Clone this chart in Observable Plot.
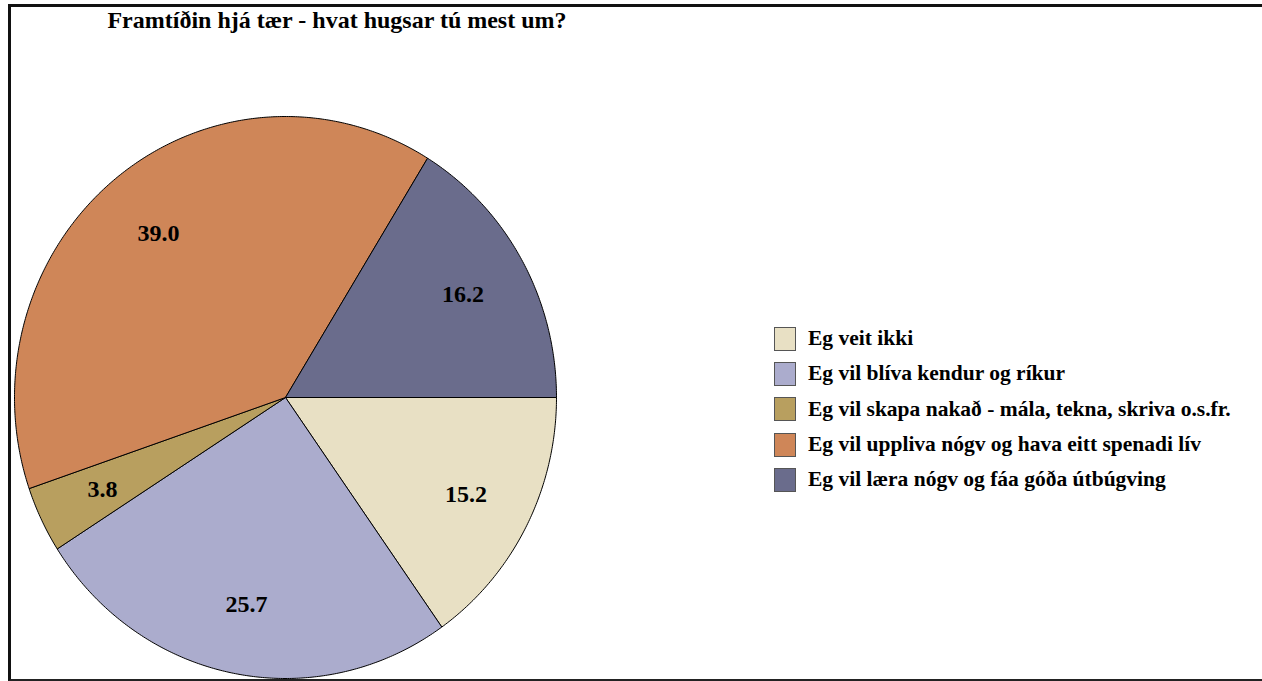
<!DOCTYPE html>
<html>
<head>
<meta charset="utf-8">
<script src="https://cdn.jsdelivr.net/npm/d3@7"></script>
<script src="https://cdn.jsdelivr.net/npm/@observablehq/plot@0.6"></script>
<style>
  html, body { margin: 0; padding: 0; background: #fff; width: 1262px; height: 681px; overflow: hidden; }
  #wrap { position: relative; width: 1262px; height: 681px; }
  #frame { position: absolute; left: 8px; top: 4px; width: 1270px; height: 672px; border-top: 3px solid #111; border-left: 3px solid #111; border-bottom: 2px solid #222; }
  #title { position: absolute; left: 0; width: 674px; top: 7px; line-height: 28px; text-align: center; font: bold 24px "Liberation Serif", "Times New Roman", serif; color: #000; }
  #chart { position: absolute; left: 0; top: 0; }
  #legend { position: absolute; left: 774px; top: 321px; font: bold 21.5px "Liberation Serif", "Times New Roman", serif; color: #000; }
  .row { display: flex; align-items: center; height: 35.3px; }
  .sw { width: 20px; height: 22px; border: 1.5px solid #555; margin-right: 12px; box-sizing: content-box; }
</style>
</head>
<body>
<div id="wrap">
  <div id="frame"></div>
  <div id="chart"></div>
  <div id="title">Framtíðin hjá tær - hvat hugsar tú mest um?</div>
  <div id="legend"></div>
</div>
<script>
const categories = [
  "Eg veit ikki",
  "Eg vil blíva kendur og ríkur",
  "Eg vil skapa nakað - mála, tekna, skriva o.s.fr.",
  "Eg vil uppliva nógv og hava eitt spenadi lív",
  "Eg vil læra nógv og fáa góða útbúgving"
];
const values = [15.2, 25.7, 3.8, 39.0, 16.2];
const labels = ["15.2", "25.7", "3.8", "39.0", "16.2"];
const colors = ["#E8E0C4", "#ABACCD", "#B89F5F", "#CF8658", "#6A6C8C"];

const data = categories.map((c, i) => ({key: c, value: values[i], label: labels[i]}));

// start at 3 o'clock, go clockwise
const pie = d3.pie().sort(null).value(d => d.value)
  .startAngle(0).endAngle(2 * Math.PI);
const arcs = pie(data);

// convert pie angle (clockwise from east) to math coords
const pt = (a, r) => [r * Math.cos(-a), r * Math.sin(-a)];

const polys = [];
arcs.forEach(a => {
  const k = a.data.key;
  polys.push({key: k, x: 0, y: 0});
  const n = Math.max(4, Math.ceil((a.endAngle - a.startAngle) * 120));
  for (let j = 0; j <= n; j++) {
    const t = a.startAngle + (a.endAngle - a.startAngle) * j / n;
    const [x, y] = pt(t, 1);
    polys.push({key: k, x, y});
  }
  polys.push({key: k, x: 0, y: 0});
});

const labelPts = arcs.map(a => {
  const m = (a.startAngle + a.endAngle) / 2;
  const [x, y] = pt(m, 0.75);
  return {x, y, label: a.data.label};
});

const chart = Plot.plot({
  width: 1262,
  height: 681,
  margin: 0,
  x: {domain: [-1, 1], range: [14, 556], axis: null},
  y: {domain: [-1, 1], range: [678, 116], axis: null},
  color: {domain: categories, range: colors},
  marks: [
    Plot.line(polys, {x: "x", y: "y", z: "key", fill: "key", stroke: "#000", strokeWidth: 1, curve: "linear"}),
    Plot.text(labelPts, {x: "x", y: "y", text: "label", fontSize: 24, fontWeight: "bold", fontFamily: "Liberation Serif, Times New Roman, serif", fill: "#000"})
  ],
  style: {background: "transparent"}
});
document.getElementById("chart").appendChild(chart);

const legend = document.getElementById("legend");
categories.forEach((c, i) => {
  const row = document.createElement("div");
  row.className = "row";
  const sw = document.createElement("div");
  sw.className = "sw";
  sw.style.background = colors[i];
  const tx = document.createElement("span");
  tx.textContent = c;
  row.appendChild(sw);
  row.appendChild(tx);
  legend.appendChild(row);
});
</script>
</body>
</html>
